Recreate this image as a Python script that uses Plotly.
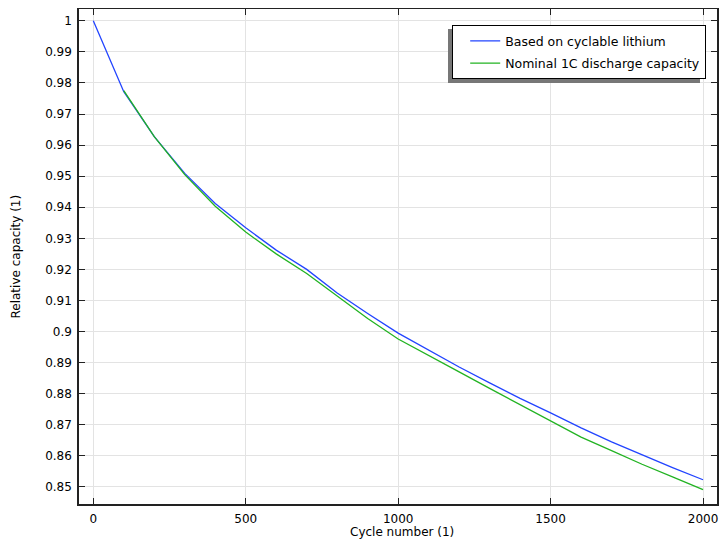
import plotly.graph_objects as go

cycles_blue = [0, 100, 200, 300, 400, 500, 600, 700, 800, 900, 1000,
               1100, 1200, 1300, 1400, 1500, 1600, 1700, 1800, 1900, 2000]
cap_blue = [1.0, 0.9772, 0.9627, 0.9509, 0.9412, 0.9334, 0.9262, 0.9200, 0.9124, 0.9058, 0.8995,
            0.8940, 0.8886, 0.8835, 0.8785, 0.8738, 0.8690, 0.8645, 0.8603, 0.8562, 0.8523]

cycles_green = [100, 200, 300, 400, 500, 600, 700, 800, 900, 1000,
                1100, 1200, 1300, 1400, 1500, 1600, 1700, 1800, 1900, 2000]
cap_green = [0.9775, 0.9627, 0.9505, 0.9403, 0.9320, 0.9250, 0.9187, 0.9113, 0.9042, 0.8976,
             0.8922, 0.8870, 0.8817, 0.8765, 0.8714, 0.8660, 0.8617, 0.8573, 0.8532, 0.8491]

name_blue = "Based on cyclable lithium"
name_green = "Nominal 1C discharge capacity"
x_title = "Cycle number (1)"
y_title = "Relative capacity (1)"
x_ticks = [0, 500, 1000, 1500, 2000]
y_ticks = [0.85, 0.86, 0.87, 0.88, 0.89, 0.9, 0.91, 0.92, 0.93, 0.94, 0.95, 0.96, 0.97, 0.98, 0.99, 1]
y_ticktext = ["0.85", "0.86", "0.87", "0.88", "0.89", "0.9", "0.91", "0.92", "0.93", "0.94",
              "0.95", "0.96", "0.97", "0.98", "0.99", "1"]

# the page body adds an 8 px offset; work in screenshot pixels
OFF = 8
W, H = 711, 535
PL, PR, PT, PB = 79, 717, 9, 504          # plot box in screenshot pixels
L, R, T, B = PL - OFF, W - (PR - OFF), PT - OFF, H - (PB - OFF)

def px(xs):
    return (xs - PL) / (PR - PL)

def py(ys):
    return (PB - ys) / (PB - PT)

font = dict(family="DejaVu Sans", size=12, color="black")
lfont = dict(family="DejaVu Sans", size=12.5, color="black")

fig = go.Figure()
fig.add_trace(go.Scatter(x=cycles_blue, y=cap_blue, mode="lines", name=name_blue,
                         legendgroup="a", line=dict(color="#2244ff", width=1.3)))
fig.add_trace(go.Scatter(x=cycles_green, y=cap_green, mode="lines", name=name_green,
                         legendgroup="b", line=dict(color="#22b322", width=1.3)))

axis_common = dict(showgrid=True, gridcolor="#e3e3e3", gridwidth=1, zeroline=False,
                   showline=True, linecolor="#222", linewidth=1.5, mirror="ticks",
                   ticks="inside", ticklen=6, tickwidth=1.3, tickcolor="#222",
                   tickfont=font)

fig.update_xaxes(range=[-46.9, 2045.9], tickvals=x_ticks, ticktext=[str(v) for v in x_ticks],
                 ticklabelstandoff=3, **axis_common)
fig.update_yaxes(range=[0.8445, 1.0038], tickvals=y_ticks, ticktext=y_ticktext,
                 ticklabelstandoff=3, **axis_common)

# legend shadow
fig.add_shape(type="rect", xref="paper", yref="paper",
              x0=px(448), x1=px(700), y0=py(83), y1=py(29),
              fillcolor="#777777", line=dict(width=0), layer="above")

fig.add_annotation(text=x_title, xref="paper", yref="paper", x=px(402), y=py(532),
                   yanchor="middle", showarrow=False, font=font)
fig.add_annotation(text=y_title, xref="paper", yref="paper", x=px(15), y=0.5,
                   xanchor="center", yanchor="middle", textangle=-90, showarrow=False, font=font)

fig.update_layout(
    width=W, height=H,
    margin=dict(l=L, r=R, t=T, b=B, autoexpand=False),
    paper_bgcolor="white", plot_bgcolor="white",
    font=font,
    showlegend=True,
    legend=dict(x=px(452), y=py(25), xanchor="left", yanchor="top",
                bgcolor="white", bordercolor="black", borderwidth=1.2,
                font=lfont, tracegroupgap=3, traceorder="grouped",
                indentation=12, itemwidth=30),
)

fig.write_html("out.html")
